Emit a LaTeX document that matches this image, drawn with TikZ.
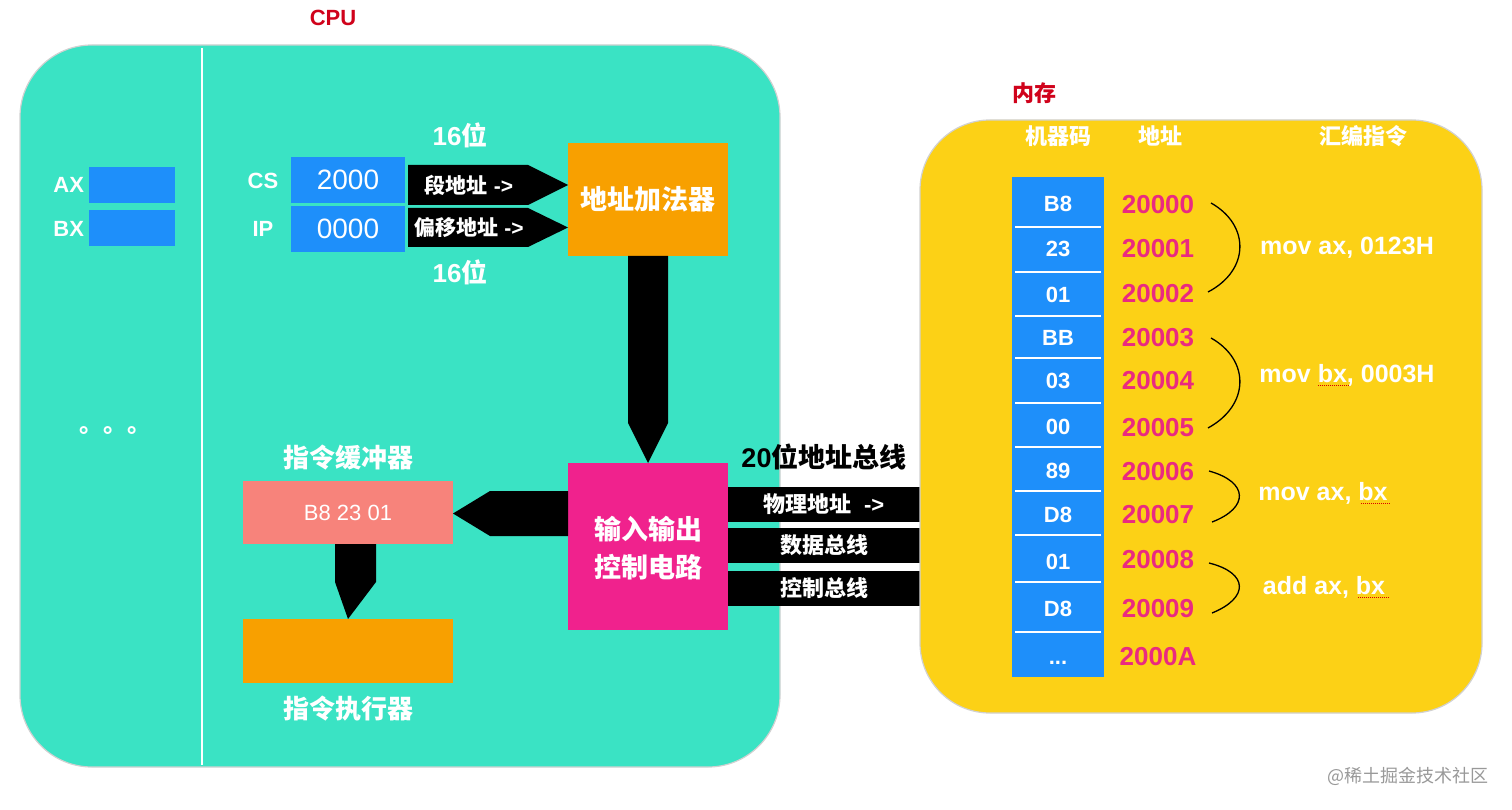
\documentclass[tikz,border=0pt]{standalone}
\usepackage{fontspec}
\setmainfont{Liberation Sans}
\newfontfamily\cjk{Noto Sans CJK SC}
\usetikzlibrary{calc}
\definecolor{cpuc}{HTML}{3AE3C4}
\definecolor{regc}{HTML}{1E8FFA}
\definecolor{orc}{HTML}{F8A000}
\definecolor{magc}{HTML}{F0228D}
\definecolor{salc}{HTML}{F7837B}
\definecolor{memc}{HTML}{FCD116}
\definecolor{addrc}{HTML}{EA2A80}
\definecolor{redc}{HTML}{D0021B}
\newcommand\fsz[1]{\fontsize{#1}{#1}\selectfont}
\newcommand\zh[1]{{\cjk #1}}
\begin{document}
\begin{tikzpicture}[x=1pt,y=-1pt,
  every node/.style={inner sep=0pt,outer sep=0pt},
  plate/.style={draw=black!18,line width=1.2pt,rounded corners=72pt},
  regbox/.style={fill=regc,minimum width=86pt,minimum height=36pt},
  segbox/.style={fill=regc,minimum width=114pt,minimum height=46pt,text=white,font=\fsz{28}},
  wlab/.style={text=white,font=\bfseries\fsz{22}},
  arrowtext/.style={text=white,font=\bfseries\fsz{21}},
  bigzh/.style={text=white,font=\bfseries\fsz{27}},
  blk/.style={fill=black},
  bar/.style={fill=black,minimum width=192pt,minimum height=35pt,text=white,font=\bfseries\fsz{22}},
  cell/.style={text=white,font=\bfseries\fsz{22}},
  addr/.style={text=addrc,font=\bfseries\fsz{26}},
  instr/.style={text=white,font=\bfseries\fsz{25}},
  brace/.style={draw=black,line width=1.3pt},
  spell/.style={draw=red!85!black,line width=1pt,dash pattern=on 1pt off 1pt},
  sep/.style={draw=white,line width=2.5pt}
]
\useasboundingbox (0,0) rectangle (1512,810);
\fill[white] (0,0) rectangle (1512,810);

% ---------------- CPU ----------------
\node[text=redc,font=\bfseries\fsz{22}] (cputitle) at (333,18) {CPU};
\node[plate,fill=cpuc,minimum width=760pt,minimum height=722pt] (cpu) at (400,406) {};
\coordinate (divtop) at (202,48);
\coordinate (divbot) at (202,765);
\draw[white,line width=2pt] (divtop) -- (divbot);

% general registers
\node[regbox] (ax) at (132,185) {};
\node[regbox] (bx) at (132,228.5) {};
\node[wlab,anchor=east] (axl) at (84,185) {AX};
\node[wlab,anchor=east] (bxl) at (84,229) {BX};
\node[text=white,font=\cjk\bfseries\fsz{24},anchor=base west] (dots) at (79,432) {。。。};

% segment registers
\node[segbox] (cs) at (348,180) {2000};
\node[segbox] (ip) at (348,229) {0000};
\node[wlab] (csl) at (263,181) {CS};
\node[wlab] (ipl) at (263,229) {IP};

% address adder
\node[fill=orc,minimum width=160pt,minimum height=113pt,bigzh] (adder) at (648,199.5) {\zh{地址加法器}};

% arrows CS/IP -> adder
\fill[blk] (408,165) -- (528,165) -- (adder.west |- 0,185) -- (528,205) -- (408,205) -- cycle;
\fill[blk] (408,208) -- (528,208) -- (adder.west |- 0,227.5) -- (528,247) -- (408,247) -- cycle;
\node[arrowtext] (segt) at (469,185) {\zh{段地址} ->};
\node[arrowtext] (offt) at (469,228) {\zh{偏移地址} ->};
\node[text=white,font=\bfseries\fsz{26}] (b16a) at (460,135) {16\zh{位}};
\node[text=white,font=\bfseries\fsz{26}] (b16b) at (460,272) {16\zh{位}};

% IO control
\node[fill=magc,minimum width=160pt,minimum height=167pt] (io) at (648,546.5) {};
\node[bigzh,align=center] (iot) at (648,548) {\zh{输入输出}\\[11pt]\zh{控制电路}};

% adder -> io
\fill[blk] (628,0 |- adder.south) -- (628,423) -- (io.north) -- (668,423) -- (668,0 |- adder.south) -- cycle;

% instruction buffer & executor
\node[fill=salc,minimum width=210pt,minimum height=63pt,text=white,font=\fsz{22}] (buf) at (348,512.5) {B8 23 01};
\node[bigzh,font=\bfseries\fsz{26}] (bufl) at (348,458) {\zh{指令缓冲器}};
\node[fill=orc,minimum width=210pt,minimum height=64pt] (exe) at (348,651) {};
\node[bigzh,font=\bfseries\fsz{26}] (exel) at (348,709) {\zh{指令执行器}};

% io -> buffer
\fill[blk] (io.west |- 0,491) -- (490,491) -- (buf.east |- 0,513.5) -- (490,536) -- (io.west |- 0,536) -- cycle;
% buffer -> executor
\fill[blk] (335,0 |- buf.south) -- (335,582) -- (exe.north) -- (376,582) -- (376,0 |- buf.south) -- cycle;

% ---------------- buses ----------------
\node[font=\bfseries\fsz{27}] (busl) at (824,457) {20\zh{位地址总线}};
\node[bar] (bus1) at (824,504) {\zh{物理地址}\ \ ->};
\node[bar] (bus2) at (824,545.5) {\zh{数据总线}};
\node[bar] (bus3) at (824,588) {\zh{控制总线}};

% ---------------- memory ----------------
\node[text=redc,font=\bfseries\fsz{22}] (memtitle) at (1034,93) {\zh{内存}};
\node[plate,rounded corners=70pt,fill=memc,minimum width=562pt,minimum height=593pt] (mem) at (1201,416.5) {};
\node[wlab] (h1) at (1058,136) {\zh{机器码}};
\node[wlab] (h2) at (1160,136) {\zh{地址}};
\node[wlab] (h3) at (1363,136) {\zh{汇编指令}};

\node[fill=regc,minimum width=92pt,minimum height=500pt] (col) at (1058,427) {};
\foreach \yy in {227,272,316,358,403,447,491,535,582,632}
  \draw[sep] (1015,\yy) -- (1101,\yy);

\node[cell] (c0) at (1058,204) {B8};
\node[cell] (c1) at (1058,249) {23};
\node[cell] (c2) at (1058,295) {01};
\node[cell] (c3) at (1058,338) {BB};
\node[cell] (c4) at (1058,381) {03};
\node[cell] (c5) at (1058,427) {00};
\node[cell] (c6) at (1058,471) {89};
\node[cell] (c7) at (1058,515) {D8};
\node[cell] (c8) at (1058,562) {01};
\node[cell] (c9) at (1058,609) {D8};
\node[cell,anchor=base] (c10) at (1058,664) {...};

\node[addr] (a0) at (1158,205) {20000};
\node[addr] (a1) at (1158,249) {20001};
\node[addr] (a2) at (1158,294) {20002};
\node[addr] (a3) at (1158,338) {20003};
\node[addr] (a4) at (1158,381) {20004};
\node[addr] (a5) at (1158,428) {20005};
\node[addr] (a6) at (1158,472) {20006};
\node[addr] (a7) at (1158,515) {20007};
\node[addr] (a8) at (1158,560) {20008};
\node[addr] (a9) at (1158,609) {20009};
\node[addr] (a10) at (1158,657) {2000A};

\draw[brace] (1211,203) .. controls (1250,225) and (1250,270) .. (1208,292);
\draw[brace] (1211,338) .. controls (1250,360) and (1250,405) .. (1208,428);
\draw[brace] (1209,471) .. controls (1249,482) and (1249,508) .. (1212,522);
\draw[brace] (1209,563) .. controls (1249,573) and (1249,598) .. (1212,613);

\node[instr] (i1) at (1347,248) {mov ax, 0123H};
\node[instr] (i2) at (1347,375) {mov bx, 0003H};
\node[instr] (i3) at (1323,493) {mov ax, bx};
\node[instr] (i4) at (1324,587) {add ax, bx};
\draw[spell] (1318,385) -- (1349,385);
\draw[spell] (1361,503) -- (1391,503);
\draw[spell] (1358,597) -- (1389,597);

% watermark
\node[text=black!40,font=\cjk\fsz{18}] (wm) at (1408,776) {@稀土掘金技术社区};
\end{tikzpicture}
\end{document}
